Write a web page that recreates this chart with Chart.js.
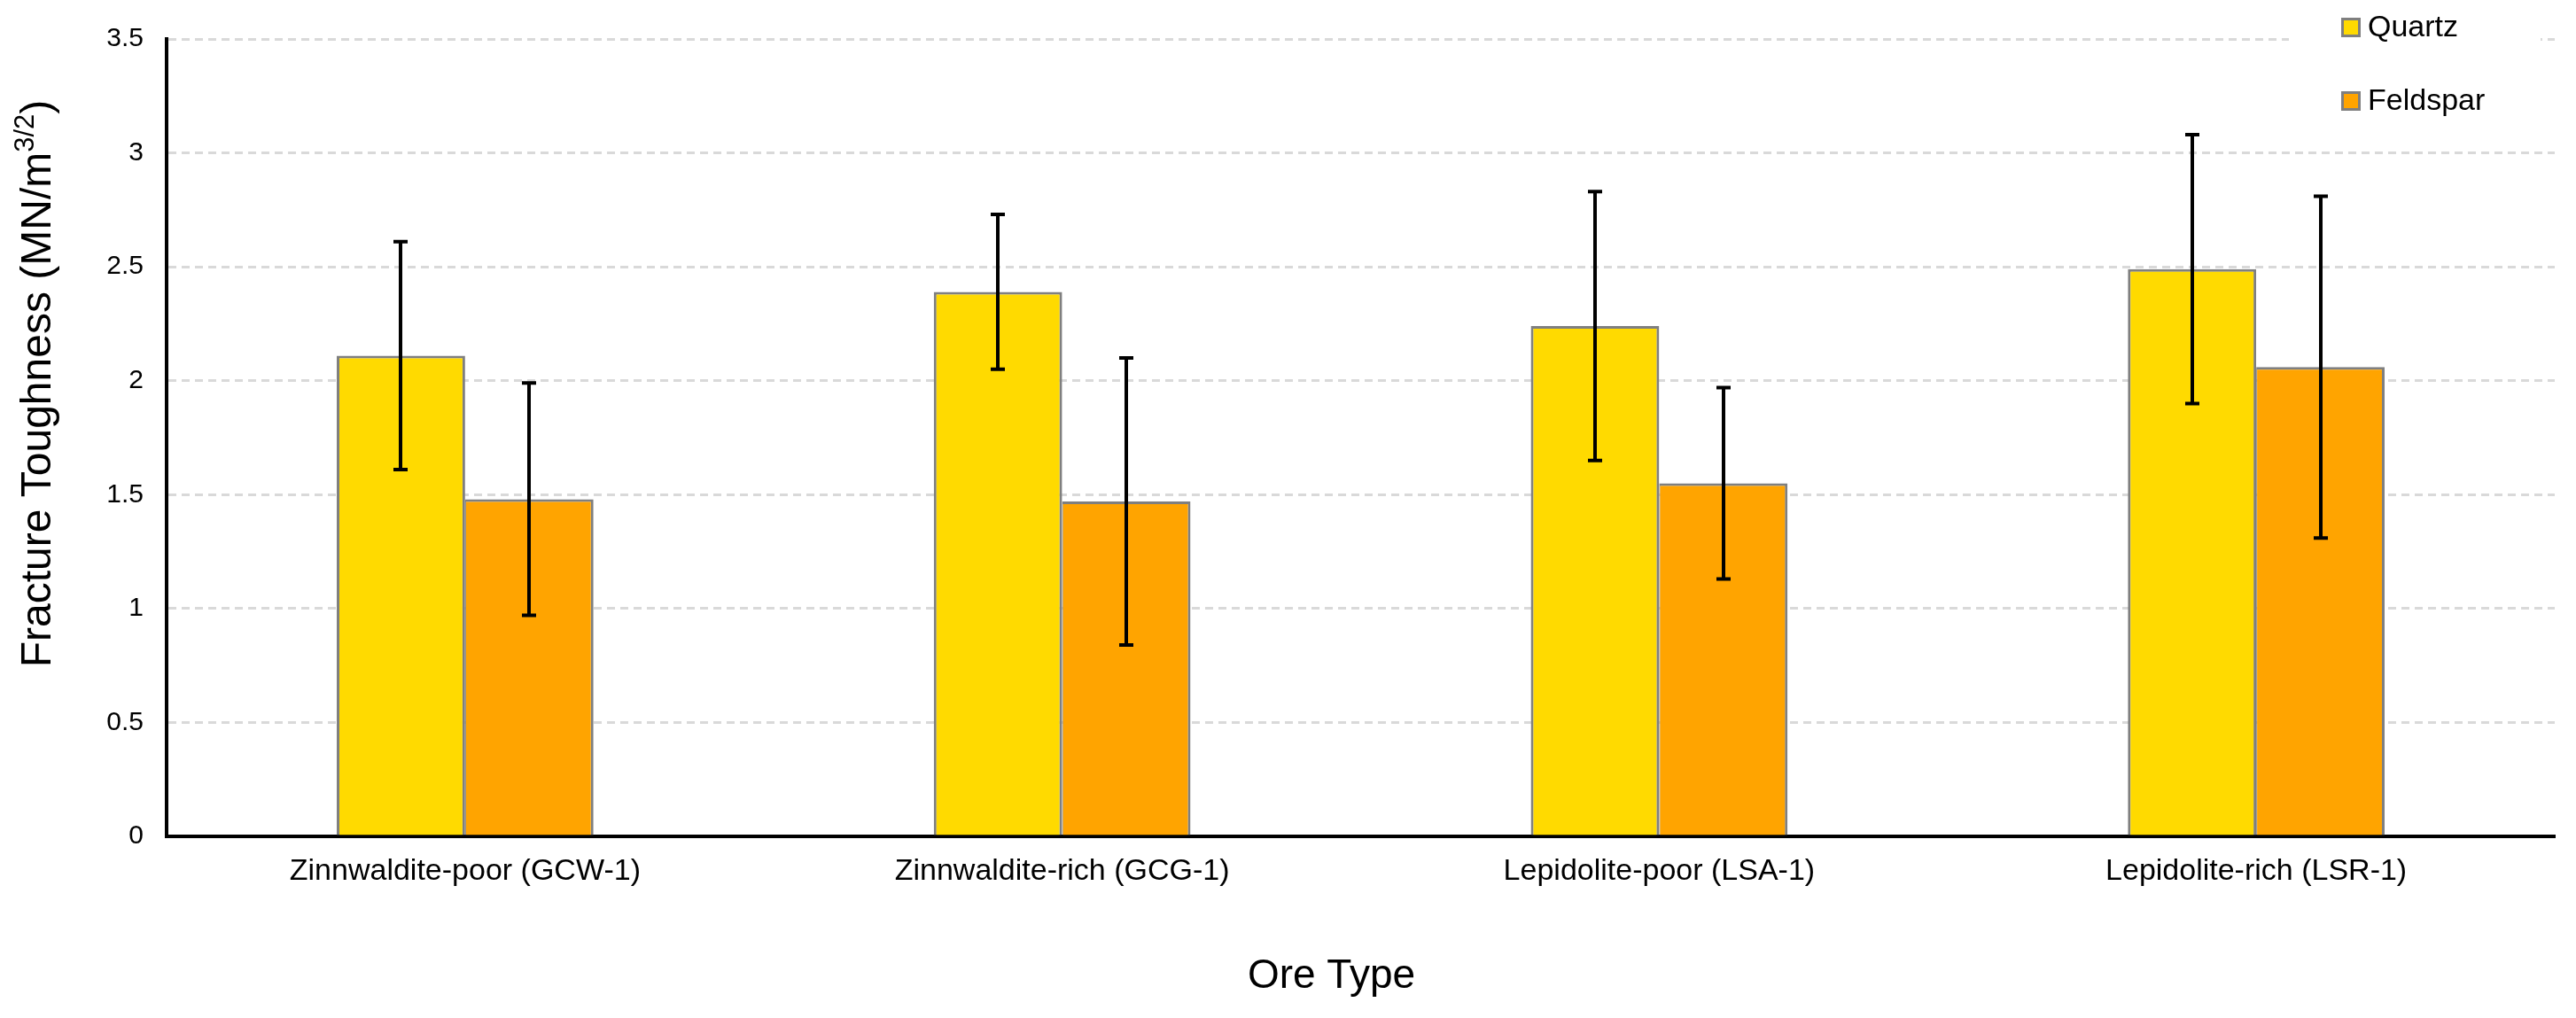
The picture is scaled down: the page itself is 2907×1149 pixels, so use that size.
<!DOCTYPE html>
<html>
<head>
<meta charset="utf-8">
<script src="https://cdn.jsdelivr.net/npm/chart.js@4.4.0/dist/chart.umd.min.js"></script>
<style>
html,body{margin:0;padding:0;background:#fff;overflow:hidden}
#wrap{width:2907px;height:1149px;position:relative}
</style>
</head>
<body>
<div id="wrap"><canvas id="c" width="2907" height="1149"></canvas></div>
<script>
// ---- data ----
const categories = ['Zinnwaldite-poor (GCW-1)', 'Zinnwaldite-rich (GCG-1)', 'Lepidolite-poor (LSA-1)', 'Lepidolite-rich (LSR-1)'];
const seriesNames = ['Quartz', 'Feldspar'];
const quartzValues = [2.11, 2.39, 2.24, 2.49];
const quartzErrors = [0.50, 0.34, 0.59, 0.59];
const feldsparValues = [1.48, 1.47, 1.55, 2.06];
const feldsparErrors = [0.51, 0.63, 0.42, 0.75];
const yTickLabels = ['0', '0.5', '1', '1.5', '2', '2.5', '3', '3.5'];
const yAxisTitleMain = 'Fracture Toughness (MN/m';
const yAxisTitleSup = '3/2';
const yAxisTitleEnd = ')';
const xAxisTitle = 'Ore Type';

const FONT = '"Liberation Sans", Arial, sans-serif';
const errorSets = [quartzErrors, feldsparErrors];

const decorPlugin = {
  id: 'decor',
  afterDatasetsDraw(chart) {
    const ctx = chart.ctx;
    const yScale = chart.scales.y;
    ctx.save();
    ctx.strokeStyle = '#000';
    ctx.lineWidth = 4;
    chart.data.datasets.forEach((ds, di) => {
      const meta = chart.getDatasetMeta(di);
      meta.data.forEach((bar, i) => {
        const v = ds.data[i];
        const e = errorSets[di][i];
        const x = Math.round(bar.x);
        const yT = yScale.getPixelForValue(v + e);
        const yB = yScale.getPixelForValue(v - e);
        ctx.beginPath();
        ctx.moveTo(x, yT); ctx.lineTo(x, yB);
        ctx.moveTo(x - 8, yT); ctx.lineTo(x + 8, yT);
        ctx.moveTo(x - 8, yB); ctx.lineTo(x + 8, yB);
        ctx.stroke();
      });
    });
    ctx.restore();
  },
  afterDraw(chart) {
    const ctx = chart.ctx;
    const ca = chart.chartArea;
    ctx.save();
    // legend
    const lx = ca.right - 241;
    ctx.fillStyle = '#fff';
    ctx.fillRect(ca.right - 300, 0, 284, ca.top + 110);
    ctx.font = '34px ' + FONT;
    ctx.textBaseline = 'middle';
    ctx.textAlign = 'left';
    chart.data.datasets.forEach((ds, i) => {
      const cy = 31 + i * 83;
      ctx.fillStyle = ds.backgroundColor;
      ctx.fillRect(lx, cy - 11, 22, 22);
      ctx.strokeStyle = '#7f7f7f';
      ctx.lineWidth = 3;
      ctx.strokeRect(lx + 1.5, cy - 9.5, 19, 19);
      ctx.fillStyle = '#000';
      ctx.fillText(ds.label, lx + 30, cy + 1);
    });
    // x axis title
    ctx.font = '46px ' + FONT;
    ctx.textAlign = 'center';
    ctx.textBaseline = 'middle';
    ctx.fillStyle = '#000';
    ctx.fillText(xAxisTitle, (ca.left + ca.right) / 2 - 33, 1102);
    // y axis title with superscript
    const mainFont = '48px ' + FONT;
    const supFont = '31px ' + FONT;
    ctx.font = mainFont;
    const w1 = ctx.measureText(yAxisTitleMain).width;
    const w3 = ctx.measureText(yAxisTitleEnd).width;
    ctx.font = supFont;
    const w2 = ctx.measureText(yAxisTitleSup).width;
    const total = w1 + w2 + w3;
    ctx.translate(57, 433);
    ctx.rotate(-Math.PI / 2);
    ctx.textAlign = 'left';
    ctx.textBaseline = 'alphabetic';
    let xx = -total / 2;
    ctx.font = mainFont;
    ctx.fillText(yAxisTitleMain, xx, 0);
    xx += w1;
    ctx.font = supFont;
    ctx.fillText(yAxisTitleSup, xx, -19);
    xx += w2;
    ctx.font = mainFont;
    ctx.fillText(yAxisTitleEnd, xx, 0);
    ctx.restore();
  }
};

new Chart(document.getElementById('c'), {
  type: 'bar',
  data: {
    labels: categories,
    datasets: [
      {
        label: seriesNames[0],
        data: quartzValues,
        backgroundColor: '#FFDA00',
        borderColor: '#7f7f7f',
        borderWidth: {top: 3, left: 3, right: 3, bottom: 0},
        categoryPercentage: 0.43,
        barPercentage: 1.0
      },
      {
        label: seriesNames[1],
        data: feldsparValues,
        backgroundColor: '#FFA400',
        borderColor: '#7f7f7f',
        borderWidth: {top: 3, left: 1, right: 3, bottom: 0},
        categoryPercentage: 0.43,
        barPercentage: 1.0
      }
    ]
  },
  options: {
    responsive: false,
    devicePixelRatio: 1,
    animation: false,
    layout: {padding: {top: 37, right: 24, left: 0, bottom: 0}},
    plugins: {legend: {display: false}, tooltip: {enabled: false}},
    scales: {
      x: {
        grid: {display: false, drawTicks: false},
        border: {display: true, color: '#000', width: 4},
        ticks: {font: {family: FONT, size: 34}, color: '#000', padding: 19, maxRotation: 0, autoSkip: false},
        afterFit(s) { s.height = 205; }
      },
      y: {
        min: 0,
        max: 3.5,
        ticks: {
          stepSize: 0.5,
          font: {family: FONT, size: 30},
          color: '#000',
          padding: 26,
          callback: (v, i) => yTickLabels[i]
        },
        grid: {color: '#d9d9d9', lineWidth: 3, drawTicks: false},
        border: {display: true, color: '#000', width: 4, dash: [9, 6]},
        afterFit(s) { s.width = 188; }
      }
    }
  },
  plugins: [decorPlugin]
});
</script>
</body>
</html>
